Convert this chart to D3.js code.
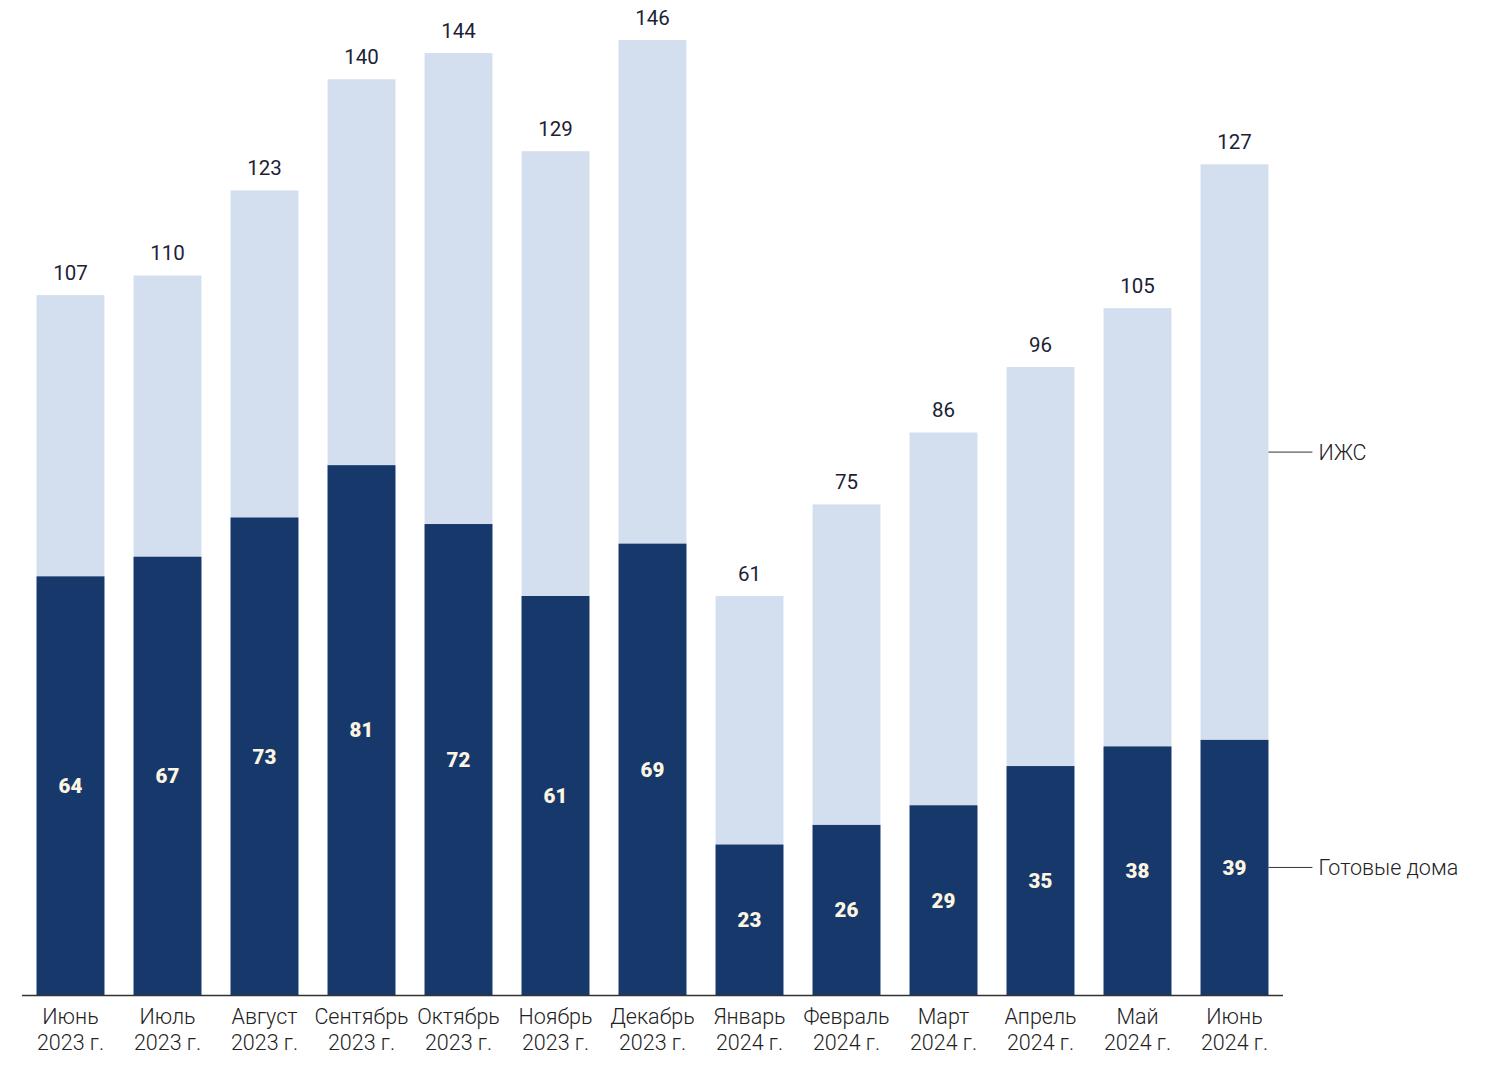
<!DOCTYPE html>
<html><head><meta charset="utf-8">
<script src="https://cdn.jsdelivr.net/npm/d3@7"></script>
<style>body{margin:0;background:#fff}svg{display:block}</style>
</head><body>
<svg id="c" width="1506" height="1088"></svg>
<script>
const months = ["Июнь","Июль","Август","Сентябрь","Октябрь","Ноябрь","Декабрь","Январь","Февраль","Март","Апрель","Май","Июнь"];
const years = ["2023 г.","2023 г.","2023 г.","2023 г.","2023 г.","2023 г.","2023 г.","2024 г.","2024 г.","2024 г.","2024 г.","2024 г.","2024 г."];
const totals = [107,110,123,140,144,129,146,61,75,86,96,105,127];
const ready = [64,67,73,81,72,61,69,23,26,29,35,38,39];
const seriesNames = ["ИЖС","Готовые дома"];

const svg = d3.select("#c");
const idx = d3.range(months.length);
const x = d3.scaleBand().domain(idx).range([22,1283]).paddingInner(0.3).paddingOuter(0.15);
const y = d3.scaleLinear().domain([0,146]).range([995,40]);
const font = "Roboto, 'Open Sans', sans-serif";

const g = svg.append("g");
g.selectAll(".tot").data(idx).join("rect")
  .attr("x", i=>x(i)).attr("width", x.bandwidth())
  .attr("y", i=>y(totals[i])).attr("height", i=>y(0)-y(totals[i]))
  .attr("fill","#d3dfef");
g.selectAll(".rdy").data(idx).join("rect")
  .attr("x", i=>x(i)).attr("width", x.bandwidth())
  .attr("y", i=>y(ready[i])).attr("height", i=>y(0)-y(ready[i]))
  .attr("fill","#17386b");
g.selectAll(".tl").data(idx).join("text")
  .attr("x", i=>x(i)+x.bandwidth()/2).attr("y", i=>y(totals[i])-15)
  .attr("text-anchor","middle").attr("font-family",font).attr("font-size",20.5)
  .attr("font-weight",400).attr("fill","#1b2236")
  .text(i=>totals[i]);
g.selectAll(".rl").data(idx).join("text")
  .attr("x", i=>x(i)+x.bandwidth()/2).attr("y", i=>(y(ready[i])+y(0))/2)
  .attr("dy","0.36em")
  .attr("text-anchor","middle").attr("font-family",font).attr("font-size",20.5)
  .attr("font-weight",900).attr("fill","#fbf5e2")
  .text(i=>ready[i]);

const ax = svg.append("g").attr("transform",`translate(0,${y(0)})`)
  .call(d3.axisBottom(x).tickSize(0).tickFormat(""));
ax.select(".domain").attr("stroke","#333").attr("stroke-width",1.5).attr("d","M22,0.5H1283");
ax.selectAll(".tick text").remove();
const lab = svg.append("g").selectAll("text").data(idx).join("text")
  .attr("x", i=>x(i)+x.bandwidth()/2).attr("y", y(0)+29)
  .attr("text-anchor","middle").attr("font-family",font).attr("font-size",21.5)
  .attr("font-weight",300).attr("fill","#222");
lab.append("tspan").attr("x", i=>x(i)+x.bandwidth()/2).text(i=>months[i]);
lab.append("tspan").attr("x", i=>x(i)+x.bandwidth()/2).attr("dy",26).text(i=>years[i]);

const last = idx.length-1;
const xe = x(last)+x.bandwidth();
const legY = [(y(totals[last])+y(ready[last]))/2, (y(ready[last])+y(0))/2];
seriesNames.forEach((n,k)=>{
  svg.append("line").attr("x1",xe).attr("x2",xe+44).attr("y1",legY[k]).attr("y2",legY[k])
    .attr("stroke","#333").attr("stroke-width",1);
  svg.append("text").attr("x",xe+50).attr("y",legY[k]).attr("dy","0.36em")
    .attr("font-family",font).attr("font-size",21.5).attr("font-weight",300).attr("fill","#222").text(n);
});
</script>
</body></html>
